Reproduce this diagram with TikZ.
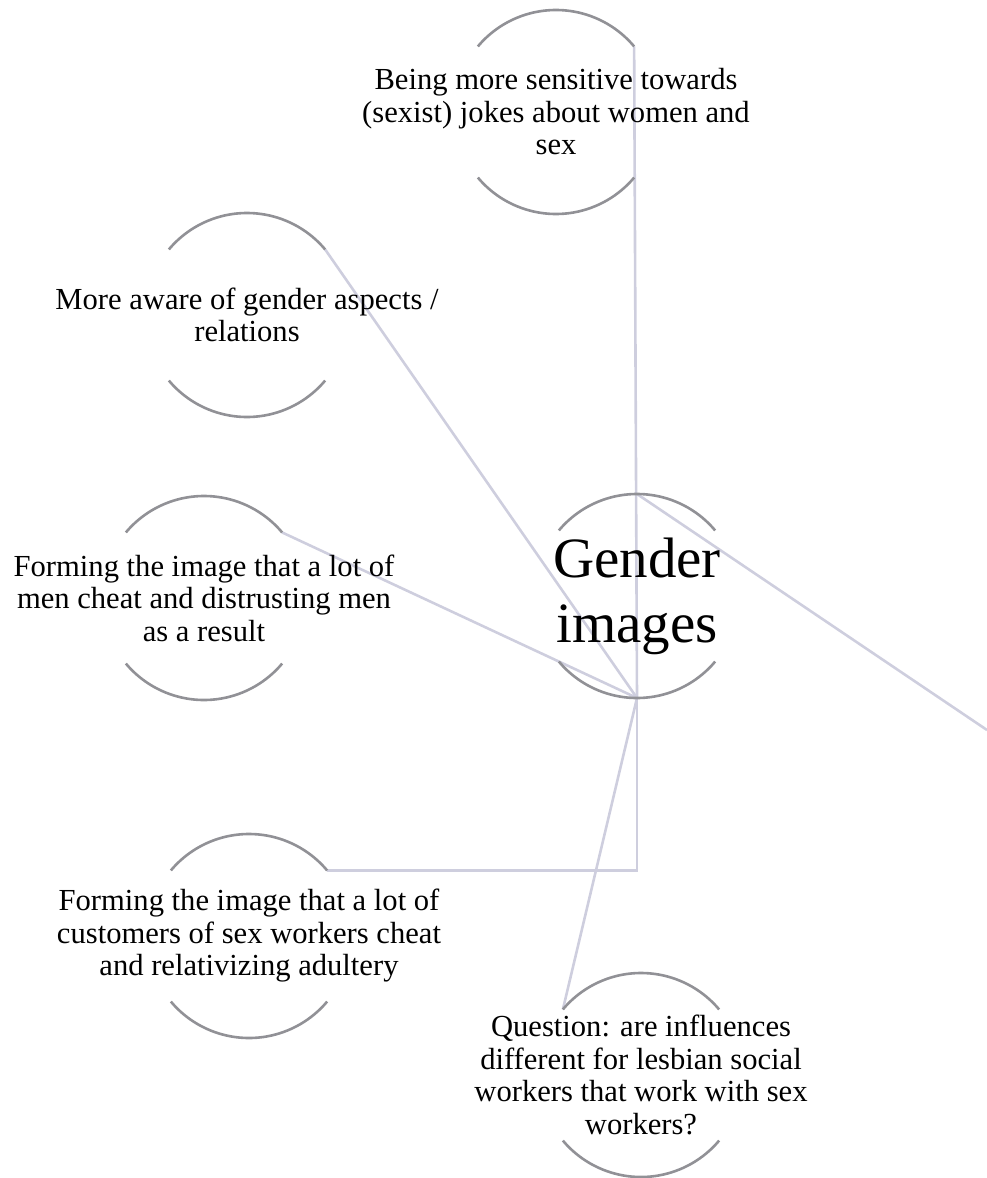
\documentclass[tikz,border=0pt]{standalone}
\usepackage{fontspec}
\setmainfont{Liberation Serif}
\definecolor{ringgray}{RGB}{145,145,150}
\definecolor{linklav}{RGB}{206,206,222}
\begin{document}
\begin{tikzpicture}[x=1pt,y=-1pt,
  ring/.style={circle,draw=none,minimum size=204pt,inner sep=0pt,outer sep=0pt},
  label text/.style={align=center,inner sep=0pt,font=\fontsize{30.6}{32.5}\selectfont},
  hub text/.style={align=center,inner sep=0pt,font=\fontsize{57}{65}\selectfont},
  arcline/.style={draw=ringgray,line width=2.6pt},
  link/.style={draw=linklav,line width=2.6pt}]
\useasboundingbox (0,0) rectangle (987,1178);

% rings
\node[ring] (top)    at (556,112)  {};
\node[ring] (aware)  at (247,315)  {};
\node[ring] (men)    at (204,598)  {};
\node[ring] (cust)   at (249,936)  {};
\node[ring] (quest)  at (641,1075) {};
\node[ring] (gender) at (637,596)  {};
\coordinate (edge) at (987,730);

% connectors
\draw[link] (top.40) -- (gender.south);
\draw[link] (aware.40) -- (gender.south);
\draw[link] (men.40) -- (gender.south);
\draw[link] (cust.40) -| (gender.south);
\draw[link] (quest.140) -- (gender.south);
\draw[link] (gender.north) -- (edge);

% upper and lower arcs of each ring
\foreach \n in {top,aware,men,cust,quest,gender}{
  \draw[arcline] (\n.140) arc[start angle=140,end angle=40,radius=102pt];
  \draw[arcline] (\n.220) arc[start angle=220,end angle=320,radius=102pt];
}

% texts
\node[label text] (top-t) at (top) {Being more sensitive towards\\(sexist) jokes about women and\\sex};
\node[label text] (aware-t) at (aware) {More aware of gender aspects /\\relations};
\node[label text] (men-t) at (men) {Forming the image that a lot of\\men cheat and distrusting men\\as a result};
\node[label text] (cust-t) at (cust) {Forming the image that a lot of\\customers of sex workers cheat\\and relativizing adultery};
\node[label text] (quest-t) at (quest) {Question: are influences\\different for lesbian social\\workers that work with sex\\workers?};
\node[hub text] (gender-t) at (gender) {Gender\\images};
\end{tikzpicture}
\end{document}
